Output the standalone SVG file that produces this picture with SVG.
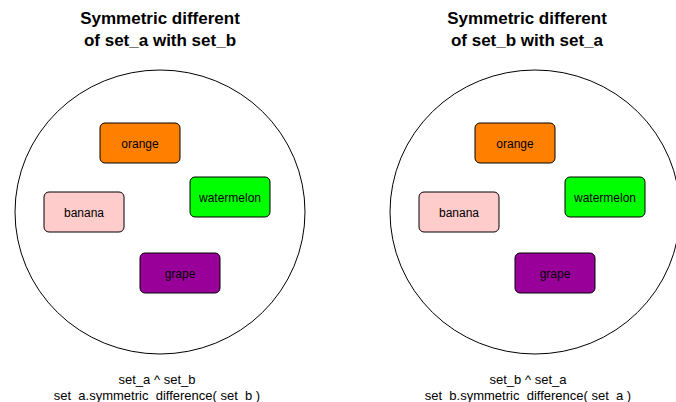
<svg xmlns="http://www.w3.org/2000/svg" width="676" height="402" viewBox="0 0 676 402">
<style>
text{font-family:"Liberation Sans",Arial,sans-serif;text-anchor:middle;fill:#000}
.t{font-size:17px;font-weight:bold}
.n{font-size:12px}
.c{font-size:13px}
.box{stroke:#000;stroke-width:1}
.ring{fill:#fff;stroke:#000;stroke-width:1}
</style>
<rect width="676" height="402" fill="#fff"/>
<g id="left">
<text class="t" x="160" y="24">Symmetric different</text>
<text class="t" x="160" y="46">of set_a with set_b</text>
<ellipse class="ring" cx="160" cy="212" rx="145" ry="142"/>
<text class="c" x="157" y="384">set_a ^ set_b</text>
<text class="c" x="157" y="400">set_a.symmetric_difference( set_b )</text>
</g>
<g id="l-orange"><rect class="box" x="100" y="123" width="80" height="40" rx="5" fill="#ff8000"/><text class="n" x="140" y="148">orange</text></g>
<g id="l-banana"><rect class="box" x="44" y="192" width="80" height="40" rx="5" fill="#ffcccc"/><text class="n" x="84" y="217">banana</text></g>
<g id="l-watermelon"><rect class="box" x="190" y="177" width="80" height="40" rx="5" fill="#00ff00"/><text class="n" x="230" y="202">watermelon</text></g>
<g id="l-grape"><rect class="box" x="140" y="253" width="80" height="40" rx="5" fill="#990099"/><text class="n" x="180" y="278">grape</text></g>
<g id="right">
<text class="t" x="527" y="24">Symmetric different</text>
<text class="t" x="527" y="46">of set_b with set_a</text>
<ellipse class="ring" cx="535" cy="212" rx="145" ry="142"/>
<text class="c" x="528" y="384">set_b ^ set_a</text>
<text class="c" x="528" y="400">set_b.symmetric_difference( set_a )</text>
</g>
<g id="r-orange"><rect class="box" x="475" y="123" width="80" height="40" rx="5" fill="#ff8000"/><text class="n" x="515" y="148">orange</text></g>
<g id="r-banana"><rect class="box" x="419" y="192" width="80" height="40" rx="5" fill="#ffcccc"/><text class="n" x="459" y="217">banana</text></g>
<g id="r-watermelon"><rect class="box" x="565" y="177" width="80" height="40" rx="5" fill="#00ff00"/><text class="n" x="605" y="202">watermelon</text></g>
<g id="r-grape"><rect class="box" x="515" y="253" width="80" height="40" rx="5" fill="#990099"/><text class="n" x="555" y="278">grape</text></g>
<g id="connectors"/>
</svg>
